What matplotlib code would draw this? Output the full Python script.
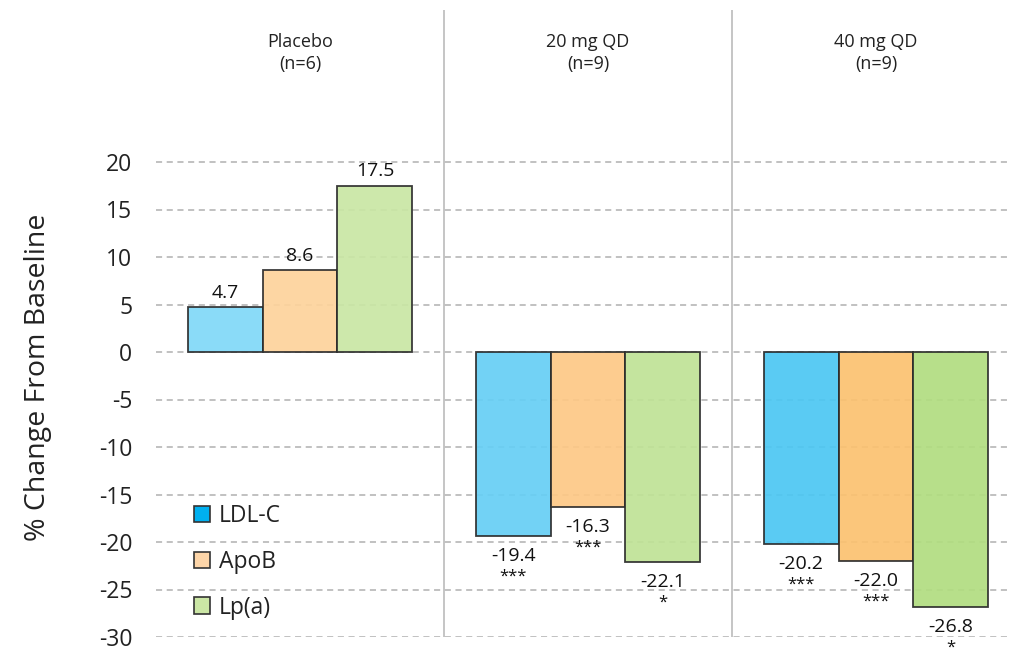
import numpy as np
import matplotlib
matplotlib.use("Agg")
import matplotlib.pyplot as plt
from matplotlib.patches import Patch

plt.rcParams['font.family'] = ['Open Sans', 'DejaVu Sans']
plt.rcParams['axes.unicode_minus'] = False

groups = ["Placebo\n(n=6)", "20 mg QD\n(n=9)", "40 mg QD\n(n=9)"]
series = ["LDL-C", "ApoB", "Lp(a)"]
ldl = [4.7, -19.4, -20.2]
apob = [8.6, -16.3, -22.0]
lpa = [17.5, -22.1, -26.8]
stars = [["", "", ""], ["***", "***", "*"], ["***", "***", "*"]]

# shade of each bar gets deeper with dose
colors = [
    ["#80d8f8", "#fdd39b", "#c9e6a4"],
    ["#66cff5", "#fdc886", "#bfe296"],
    ["#4cc7f2", "#fbc170", "#b1dd80"],
]
legend_colors = ["#00b0f0", "#fdd5a8", "#cbe6a5"]

fig = plt.figure(figsize=(10.1, 6.51), dpi=100)
ax = fig.add_axes([156 / 1010, 14 / 651, 1 - 156 / 1010, 627 / 651])

width = 0.26
centers = np.arange(len(groups)) + 0.5
values = np.array([ldl, apob, lpa]).T

for g, c in enumerate(centers):
    for s in range(len(series)):
        x = c + (s - 1) * width
        v = values[g][s]
        ax.bar(x, v, width=width, color=colors[g][s], edgecolor="#2b2b2b",
               linewidth=1.3, alpha=0.92, zorder=3)
        if v >= 0:
            ax.annotate(f"{v:.1f}", (x, v), xytext=(0, 4), textcoords="offset points",
                        ha="center", va="bottom", fontsize=14, color="#111")
        else:
            ax.annotate(f"{v:.1f}", (x, v), xytext=(0, -8), textcoords="offset points",
                        ha="center", va="top", fontsize=14, color="#111")
            ax.annotate(stars[g][s], (x, v), xytext=(0, -23.5), textcoords="offset points",
                        ha="center", va="top", fontsize=12, color="#111")
    ax.text(c, 31.5, groups[g], ha="center", va="center", fontsize=13,
            color="#222", linespacing=1.25)

for xs in [1.0, 2.0]:
    ax.axvline(xs, color="#b5b5b5", linewidth=1.1, zorder=1)

ax.set_xlim(0, (1010 - 156) / 288)
ax.set_ylim(-30, 36)
ax.set_yticks(np.arange(-30, 21, 5))
ax.set_xticks([])
ax.yaxis.grid(True, linestyle=(0, (4, 3)), color="#b0b0b0", linewidth=1.1, zorder=0)
ax.set_axisbelow(True)
for sp in ax.spines.values():
    sp.set_visible(False)
ax.tick_params(axis="y", length=0, pad=17, labelsize=16.5, labelcolor="#222")

fig.text(38 / 1010, 1 - 377 / 651, "% Change From Baseline", rotation=90,
         ha="center", va="center", fontsize=20.5, color="#222")

handles = [Patch(facecolor=legend_colors[i], edgecolor="#333", linewidth=1.2)
           for i in range(len(series))]
ax.legend(handles, series, loc="lower left", bbox_to_anchor=(0.02, -0.005),
          frameon=False, fontsize=16.5, handlelength=0.7, handleheight=0.7,
          handletextpad=0.4, labelspacing=0.95, labelcolor="#222")

fig.savefig("out.png", dpi=100)
